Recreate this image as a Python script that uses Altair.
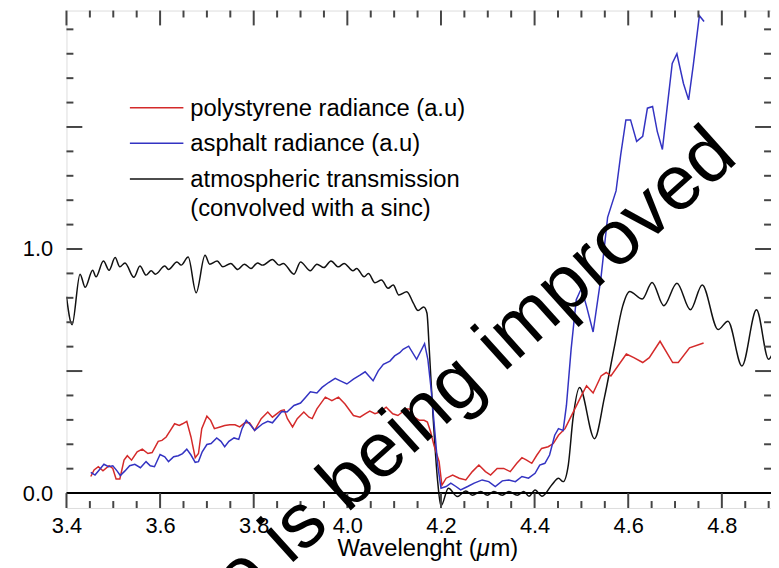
import altair as alt
import pandas as pd

# ---------------- data ----------------
LEGEND_LINES = [["polystyrene radiance (a.u)"],
                ["asphalt radiance (a.u)"],
                ["atmospheric transmission", "(convolved with a sinc)"]]
COLORS = ["#d42a2a", "#3333c2", "#111111"]

# atmospheric transmission (wavelength um, transmission) - extrema of the curve
TRANSMISSION = [
    [3.400, 0.805], [3.412, 0.690], [3.429, 0.897], [3.440, 0.843], [3.456, 0.913],
    [3.463, 0.886], [3.479, 0.951], [3.491, 0.913], [3.504, 0.965], [3.514, 0.927],
    [3.525, 0.943], [3.544, 0.884], [3.557, 0.930], [3.570, 0.893], [3.581, 0.911],
    [3.590, 0.897], [3.610, 0.930], [3.618, 0.916], [3.636, 0.947], [3.645, 0.934],
    [3.660, 0.967], [3.677, 0.821], [3.696, 0.974], [3.706, 0.938], [3.722, 0.951],
    [3.734, 0.927], [3.751, 0.941], [3.766, 0.916], [3.780, 0.938], [3.794, 0.920],
    [3.808, 0.943], [3.819, 0.934], [3.840, 0.957], [3.854, 0.934], [3.863, 0.941],
    [3.886, 0.897], [3.900, 0.947], [3.921, 0.911], [3.935, 0.938], [3.950, 0.924],
    [3.965, 0.951], [3.981, 0.927], [3.993, 0.941], [4.012, 0.911], [4.020, 0.920],
    [4.036, 0.886], [4.045, 0.900], [4.059, 0.862], [4.073, 0.873], [4.087, 0.839],
    [4.098, 0.853], [4.110, 0.812], [4.127, 0.825], [4.141, 0.778], [4.151, 0.748],
    [4.163, 0.762], [4.170, 0.738], [4.175, 0.589], [4.183, 0.318], [4.193, 0.047],
    [4.200, -0.053], [4.216, 0.020], [4.235, -0.014], [4.253, 0.009], [4.267, -0.009],
    [4.285, 0.007], [4.299, -0.009], [4.313, 0.007], [4.331, -0.009], [4.345, 0.007],
    [4.363, -0.009], [4.377, 0.007], [4.388, -0.013], [4.401, 0.013], [4.416, -0.013],
    [4.437, 0.034], [4.451, 0.061], [4.461, 0.047], [4.472, 0.115], [4.482, 0.305],
    [4.496, 0.433], [4.528, 0.223], [4.549, 0.390], [4.570, 0.595], [4.588, 0.765],
    [4.603, 0.826], [4.630, 0.795], [4.651, 0.863], [4.676, 0.768], [4.704, 0.860],
    [4.733, 0.751], [4.758, 0.853], [4.792, 0.670], [4.813, 0.704], [4.843, 0.521],
    [4.874, 0.751], [4.900, 0.548], [4.910, 0.580],
]

# polystyrene radiance (a.u)
POLYSTYRENE = [
    [3.452, 0.068], [3.459, 0.095], [3.468, 0.108], [3.478, 0.091], [3.491, 0.112],
    [3.499, 0.101], [3.506, 0.058], [3.514, 0.058], [3.523, 0.135], [3.530, 0.153],
    [3.539, 0.135], [3.551, 0.169], [3.562, 0.180], [3.574, 0.162], [3.583, 0.166],
    [3.596, 0.212], [3.604, 0.216], [3.613, 0.230], [3.622, 0.257], [3.631, 0.284],
    [3.641, 0.277], [3.648, 0.284], [3.657, 0.294], [3.666, 0.230], [3.675, 0.145],
    [3.682, 0.162], [3.689, 0.264], [3.700, 0.315], [3.708, 0.298], [3.716, 0.264],
    [3.728, 0.271], [3.738, 0.277], [3.749, 0.280], [3.760, 0.280], [3.770, 0.271],
    [3.781, 0.288], [3.791, 0.288], [3.802, 0.257], [3.816, 0.305], [3.830, 0.332],
    [3.840, 0.311], [3.858, 0.338], [3.865, 0.341], [3.872, 0.305], [3.883, 0.271],
    [3.893, 0.305], [3.907, 0.332], [3.918, 0.311], [3.925, 0.305], [3.935, 0.345],
    [3.953, 0.393], [3.967, 0.379], [3.981, 0.393], [3.995, 0.365], [4.013, 0.318],
    [4.027, 0.311], [4.038, 0.325], [4.048, 0.336], [4.059, 0.325], [4.069, 0.332],
    [4.083, 0.352], [4.097, 0.325], [4.108, 0.318], [4.126, 0.345], [4.133, 0.345],
    [4.143, 0.311], [4.154, 0.298], [4.164, 0.298], [4.171, 0.291], [4.178, 0.250],
    [4.185, 0.196], [4.196, 0.129], [4.202, 0.032], [4.211, 0.061], [4.225, 0.074],
    [4.239, 0.061], [4.253, 0.054], [4.267, 0.088], [4.281, 0.115], [4.295, 0.088],
    [4.306, 0.074], [4.320, 0.101], [4.334, 0.101], [4.348, 0.088], [4.362, 0.122],
    [4.373, 0.145], [4.383, 0.135], [4.394, 0.122], [4.405, 0.156], [4.415, 0.183],
    [4.429, 0.190], [4.440, 0.203], [4.451, 0.237], [4.465, 0.264], [4.486, 0.345],
    [4.500, 0.399], [4.511, 0.440], [4.525, 0.410], [4.542, 0.480], [4.553, 0.494],
    [4.563, 0.480], [4.596, 0.570], [4.612, 0.555], [4.631, 0.535], [4.645, 0.555],
    [4.668, 0.622], [4.695, 0.535], [4.707, 0.535], [4.731, 0.595], [4.761, 0.615],
]

# asphalt radiance (a.u)
ASPHALT = [
    [3.452, 0.085], [3.461, 0.074], [3.470, 0.095], [3.480, 0.118], [3.490, 0.108],
    [3.499, 0.112], [3.508, 0.091], [3.515, 0.072], [3.525, 0.091], [3.535, 0.112],
    [3.546, 0.118], [3.558, 0.104], [3.570, 0.129], [3.579, 0.112], [3.588, 0.108],
    [3.600, 0.158], [3.610, 0.149], [3.618, 0.129], [3.629, 0.149], [3.639, 0.153],
    [3.648, 0.162], [3.657, 0.180], [3.666, 0.156], [3.675, 0.126], [3.682, 0.129],
    [3.690, 0.169], [3.700, 0.199], [3.709, 0.203], [3.721, 0.226], [3.730, 0.212],
    [3.738, 0.190], [3.747, 0.212], [3.758, 0.226], [3.768, 0.220], [3.775, 0.264],
    [3.784, 0.298], [3.794, 0.277], [3.802, 0.257], [3.819, 0.284], [3.830, 0.294],
    [3.840, 0.288], [3.853, 0.318], [3.860, 0.334], [3.871, 0.332], [3.886, 0.359],
    [3.900, 0.369], [3.911, 0.393], [3.921, 0.415], [3.935, 0.410], [3.946, 0.433],
    [3.960, 0.453], [3.974, 0.470], [3.985, 0.460], [3.999, 0.447], [4.013, 0.467],
    [4.027, 0.483], [4.038, 0.497], [4.055, 0.460], [4.066, 0.501], [4.077, 0.528],
    [4.091, 0.541], [4.101, 0.562], [4.112, 0.575], [4.119, 0.589], [4.131, 0.602],
    [4.148, 0.548], [4.165, 0.612], [4.172, 0.548], [4.179, 0.426], [4.187, 0.250],
    [4.193, 0.115], [4.200, 0.020], [4.211, 0.027], [4.221, 0.041], [4.232, 0.027],
    [4.242, 0.013], [4.257, 0.027], [4.271, 0.041], [4.288, 0.054], [4.302, 0.047],
    [4.316, 0.027], [4.331, 0.050], [4.345, 0.054], [4.359, 0.047], [4.373, 0.068],
    [4.387, 0.061], [4.401, 0.081], [4.411, 0.115], [4.422, 0.122], [4.432, 0.156],
    [4.443, 0.237], [4.451, 0.264], [4.461, 0.257], [4.468, 0.359], [4.478, 0.589],
    [4.489, 0.792], [4.500, 0.839], [4.511, 0.765], [4.525, 0.660], [4.542, 0.886],
    [4.556, 1.130], [4.574, 1.238], [4.584, 1.387], [4.595, 1.529], [4.605, 1.529],
    [4.618, 1.441], [4.631, 1.462], [4.641, 1.577], [4.652, 1.584], [4.662, 1.482],
    [4.673, 1.408], [4.683, 1.577], [4.694, 1.760], [4.704, 1.800], [4.718, 1.678],
    [4.729, 1.611], [4.739, 1.753], [4.752, 1.956], [4.762, 1.932],
]

X_DOMAIN = [3.4, 4.905]
Y_DOMAIN = [-0.061, 1.977]
X_LABELS = [3.4, 3.6, 3.8, 4.0, 4.2, 4.4, 4.6, 4.8]
X_MINOR = [3.45, 3.5, 3.55, 3.65, 3.7, 3.75, 3.85, 3.9, 3.95, 4.05, 4.1, 4.15,
           4.25, 4.3, 4.35, 4.45, 4.5, 4.55, 4.65, 4.7, 4.75, 4.85, 4.9]
Y_LABELS = [0.0, 1.0]
Y_MAJOR = [0.5, 1.0, 1.5]
Y_MINOR = [0.1, 0.2, 0.3, 0.4, 0.6, 0.7, 0.8, 0.9, 1.1, 1.2, 1.3, 1.4,
           1.6, 1.7, 1.8, 1.9]
TITLE_PARTS = ["Wavelenght (", "\u03bc", "m)"]
WATERMARK = "This figure is being improved"

# ---------------- layout ----------------
W, H = 711, 502
FONT = "Liberation Sans"
FRAME = "#454545"

xs = alt.Scale(domain=X_DOMAIN, nice=False, zero=False)
ys = alt.Scale(domain=Y_DOMAIN, nice=False, zero=False)
x_axis = alt.Axis(values=X_LABELS, format=".1f", ticks=False, tickSize=0, domain=False,
                  grid=False, labelFontSize=22, labelPadding=8, labelFlush=False,
                  labelColor="black", labelFont=FONT, title=None, labelOverlap=False)
y_axis = alt.Axis(values=Y_LABELS, format=".1f", ticks=False, tickSize=0, domain=False,
                  grid=False, labelFontSize=22, labelPadding=14, labelFlush=False,
                  labelColor="black", labelFont=FONT, title=None, labelOverlap=False)


def series_line(points, color, interp):
    df = pd.DataFrame(points, columns=["x", "y"])
    return alt.Chart(df).mark_line(color=color, strokeWidth=1.5, interpolate=interp,
                                   clip=True).encode(
        x=alt.X("x:Q", scale=xs, axis=x_axis),
        y=alt.Y("y:Q", scale=ys, axis=y_axis))


def xticks(values, length, top):
    df = pd.DataFrame({"v": values})
    y0, y1 = (0, length) if top else (H, H - length)
    return alt.Chart(df).mark_rule(color=FRAME, strokeWidth=2).encode(
        x=alt.X("v:Q", scale=xs, axis=x_axis), y=alt.value(y0), y2=alt.value(y1))


def yticks(values, length, right):
    df = pd.DataFrame({"v": values})
    x0, x1 = (W, W - length) if right else (0, length)
    return alt.Chart(df).mark_rule(color=FRAME, strokeWidth=2).encode(
        y=alt.Y("v:Q", scale=ys, axis=y_axis), x=alt.value(x0), x2=alt.value(x1))


layers = []
layers.append(series_line(TRANSMISSION, COLORS[2], "monotone"))
layers.append(series_line(POLYSTYRENE, COLORS[0], "linear"))
layers.append(series_line(ASPHALT, COLORS[1], "linear"))

# zero line
layers.append(alt.Chart(pd.DataFrame({"v": [0.0]})).mark_rule(color="black", strokeWidth=2).encode(
    y=alt.Y("v:Q", scale=ys, axis=y_axis), x=alt.value(0), x2=alt.value(W)))

# inward ticks on all four sides
layers += [xticks(X_LABELS, 15, False), xticks(X_MINOR, 7, False),
           xticks(X_LABELS, 15, True), xticks(X_MINOR, 7, True),
           yticks(Y_MAJOR, 16, False), yticks(Y_MINOR, 7, False),
           yticks(Y_MAJOR, 16, True), yticks(Y_MINOR, 7, True)]

# legend (manual, inside plot)
RULE_Y = [98, 134, 170]
TEXT_Y = [106, 142, 178]
for i, (lines, color) in enumerate(zip(LEGEND_LINES, COLORS)):
    layers.append(alt.Chart(pd.DataFrame({"k": [i]})).mark_rule(color=color, strokeWidth=1.5).encode(
        x=alt.value(64), x2=alt.value(118), y=alt.value(RULE_Y[i])))
    for j, txt in enumerate(lines):
        layers.append(alt.Chart(pd.DataFrame({"t": [txt]})).mark_text(
            align="left", baseline="alphabetic", fontSize=24, font=FONT, color="black").encode(
            x=alt.value(125), y=alt.value(TEXT_Y[i] + 29 * j), text="t:N"))

# axis title with italic mu
TITLE_BASE = 550
layers.append(alt.Chart(pd.DataFrame({"t": [TITLE_PARTS[0]]})).mark_text(
    align="right", baseline="alphabetic", fontSize=24, font=FONT, color="black").encode(
    x=alt.value(414), y=alt.value(TITLE_BASE), text="t:N"))
layers.append(alt.Chart(pd.DataFrame({"t": [TITLE_PARTS[1]]})).mark_text(
    align="left", baseline="alphabetic", fontSize=24, font=FONT, fontStyle="italic",
    color="black").encode(x=alt.value(414), y=alt.value(TITLE_BASE), text="t:N"))
layers.append(alt.Chart(pd.DataFrame({"t": [TITLE_PARTS[2]]})).mark_text(
    align="left", baseline="alphabetic", fontSize=24, font=FONT, color="black").encode(
    x=alt.value(428), y=alt.value(TITLE_BASE), text="t:N"))

# watermark
layers.append(alt.Chart(pd.DataFrame({"t": [WATERMARK]})).mark_text(
    align="right", baseline="middle", fontSize=78, font=FONT, angle=318,
    color="black").encode(x=alt.value(664), y=alt.value(134), text="t:N"))

chart = alt.layer(*layers).properties(
    width=W, height=H,
    autosize=alt.AutoSizeParams(type="none"),
    padding={"left": 59, "top": 0, "right": 0, "bottom": 58},
).configure_view(stroke=FRAME, strokeWidth=2.5).configure(font=FONT)

chart.save("out.html", embed_options={"renderer": "svg", "actions": False})
